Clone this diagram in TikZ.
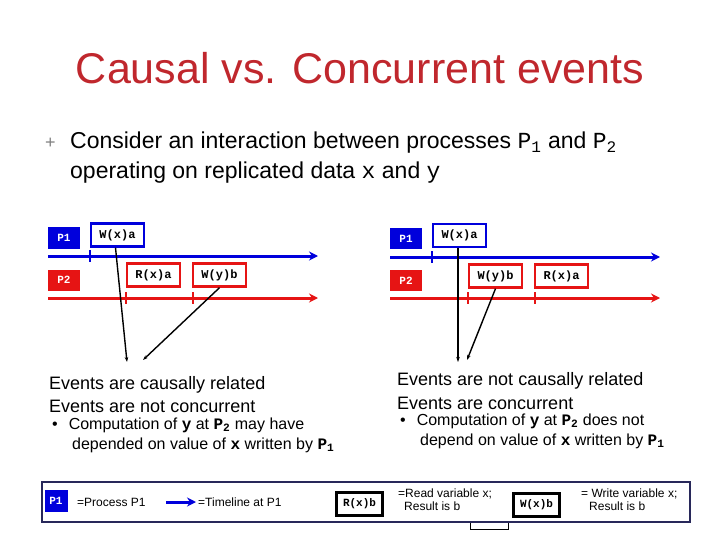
\documentclass[tikz,border=0pt]{standalone}
\usepackage{fontspec}
\setmainfont{Liberation Sans}
\newfontfamily\codefont{Liberation Mono}
\usetikzlibrary{arrows.meta}
\definecolor{titlered}{RGB}{192,39,45}
\definecolor{pblue}{RGB}{0,0,220}
\definecolor{pred}{RGB}{230,20,20}
\definecolor{navy}{RGB}{40,40,90}
\tikzset{
  proc/.style={fill=#1, text=white, font=\codefont\bfseries\fontsize{11}{11}\selectfont, minimum width=32pt, minimum height=21pt, inner sep=0pt},
  op/.style={draw=#1, line width=2.4pt, fill=white, font=\codefont\bfseries\fontsize{12}{12}\selectfont, minimum width=53pt, minimum height=23pt, inner sep=0pt},
  timeline/.style={draw=#1, line width=3pt, -{Stealth[length=9pt,width=9pt]}},
  tick/.style={draw=#1, line width=2.2pt},
  dep/.style={draw=black, line width=1.4pt, -{Stealth[length=5pt,width=3.5pt]}},
  txt/.style={anchor=west, inner sep=0pt, font=\fontsize{18}{18}\selectfont},
  btxt/.style={anchor=west, inner sep=0pt, font=\fontsize{16}{16}\selectfont}
}
\newcommand{\cv}[1]{{\codefont #1}}
\newcommand{\cb}[1]{{\codefont\bfseries #1}}
\begin{document}
\begin{tikzpicture}[x=1pt,y=-1pt]
  \useasboundingbox (0,0) rectangle (720,540);
  % title and intro
  \node[text=titlered, font=\fontsize{43}{43}\selectfont] (title) at (360,68) {Causal vs. Concurrent events};
  \node[anchor=west, inner sep=0pt, font=\fontsize{18}{18}\selectfont, text=gray] (plus) at (45,143) {+};
  \node[anchor=west, inner sep=0pt, font=\fontsize{23}{23}\selectfont] (intro1) at (70,143) {Consider an interaction between processes \cv{P\textsubscript{1}} and \cv{P\textsubscript{2}}};
  \node[anchor=west, inner sep=0pt, font=\fontsize{23}{23}\selectfont] (intro2) at (70,173) {operating on replicated data \cv{x} and \cv{y}};

  % left panel
  \node[proc=pblue] (lp1) at (64,238) {P1};
  \node[proc=pred] (lp2) at (64,280) {P2};
  \coordinate (lt1s) at (48,256);
  \coordinate (lt1e) at (318,256);
  \coordinate (lt2s) at (48,298);
  \coordinate (lt2e) at (318,298);
  \draw[timeline=pblue] (lt1s) -- (lt1e);
  \draw[timeline=pred] (lt2s) -- (lt2e);
  \draw[tick=pblue] (90,250) -- (90,262);
  \draw[tick=pred] (126,292) -- (126,304);
  \draw[tick=pred] (193,292) -- (193,304);
  \node[op=pblue] (lwxa) at (117.5,235) {W(x)a};
  \node[op=pred] (lrxa) at (153.5,275) {R(x)a};
  \node[op=pred] (lwyb) at (219.5,275) {W(y)b};
  \coordinate (lend1) at (127,362);
  \coordinate (lend2) at (143,360);
  \draw[dep] (lwxa.south) ++(-2,0) -- (lend1);
  \draw[dep] (lwyb.south) -- (lend2);
  \node[txt] (lhead1) at (49,385) {Events are causally related};
  \node[txt] (lhead2) at (49,406) {Events are not concurrent};
  \node[btxt] (lb1) at (52,425) {•\hspace{11pt}Computation of \cb{y} at \cb{P\textsubscript{2}} may have};
  \node[btxt] (lb2) at (72,445) {depended on value of \cb{x} written by \cb{P\textsubscript{1}}};

  % right panel
  \node[proc=pblue] (rp1) at (406,238.5) {P1};
  \node[proc=pred] (rp2) at (406,280.5) {P2};
  \coordinate (rt1s) at (390,257);
  \coordinate (rt1e) at (660,257);
  \coordinate (rt2s) at (390,298);
  \coordinate (rt2e) at (660,298);
  \draw[timeline=pblue] (rt1s) -- (rt1e);
  \draw[timeline=pred] (rt2s) -- (rt2e);
  \draw[tick=pblue] (432,251) -- (432,263);
  \draw[tick=pred] (468,292) -- (468,304);
  \draw[tick=pred] (535,292) -- (535,304);
  \node[op=pblue] (rwxa) at (459.5,235.5) {W(x)a};
  \node[op=pred] (rwyb) at (495.5,276) {W(y)b};
  \node[op=pred] (rrxa) at (561.5,276) {R(x)a};
  \coordinate (rend1) at (458,362);
  \coordinate (rend2) at (467,360);
  \draw[dep] (rwxa.south) ++(-1.5,0) -- (rend1);
  \draw[dep] (rwyb.south) -- (rend2);
  \node[txt] (rhead1) at (397,381) {Events are not causally related};
  \node[txt] (rhead2) at (397,403) {Events are concurrent};
  \node[btxt] (rb1) at (400,421) {•\hspace{11pt}Computation of \cb{y} at \cb{P\textsubscript{2}} does not};
  \node[btxt] (rb2) at (420,441) {depend on value of \cb{x} written by \cb{P\textsubscript{1}}};

  % legend
  \draw[black, thin] (470,512) -- (470,529) -- (508,529) -- (508,512);
  \draw[navy, line width=2.5pt, fill=white] (42,482) rectangle (690,522);
  \node[proc=pblue, minimum width=23pt, minimum height=22pt] (kp1) at (56,501) {P1};
  \node[txt, font=\fontsize{12}{12}\selectfont] (kproc) at (77,502) {=Process P1};
  \coordinate (karrs) at (166,502);
  \coordinate (karre) at (196,502);
  \draw[timeline=pblue, line width=3pt] (karrs) -- (karre);
  \node[txt, font=\fontsize{12}{12}\selectfont] (ktime) at (198,502) {=Timeline at P1};
  \node[op=black, minimum width=46pt, minimum height=23pt, font=\codefont\bfseries\fontsize{11}{11}\selectfont] (krxb) at (359.5,504) {R(x)b};
  \node[anchor=north west, inner sep=0pt, align=left, font=\fontsize{12}{13}\selectfont] (kread) at (398,489) {=Read variable x;\\\hspace{6pt}Result is b};
  \node[op=black, minimum width=46pt, minimum height=23pt, font=\codefont\bfseries\fontsize{11}{11}\selectfont] (kwxb) at (536.5,505) {W(x)b};
  \node[anchor=north west, inner sep=0pt, align=left, font=\fontsize{12}{13}\selectfont] (kwrite) at (581,489) {= Write variable x;\\\hspace{8pt}Result is b};
\end{tikzpicture}
\end{document}
